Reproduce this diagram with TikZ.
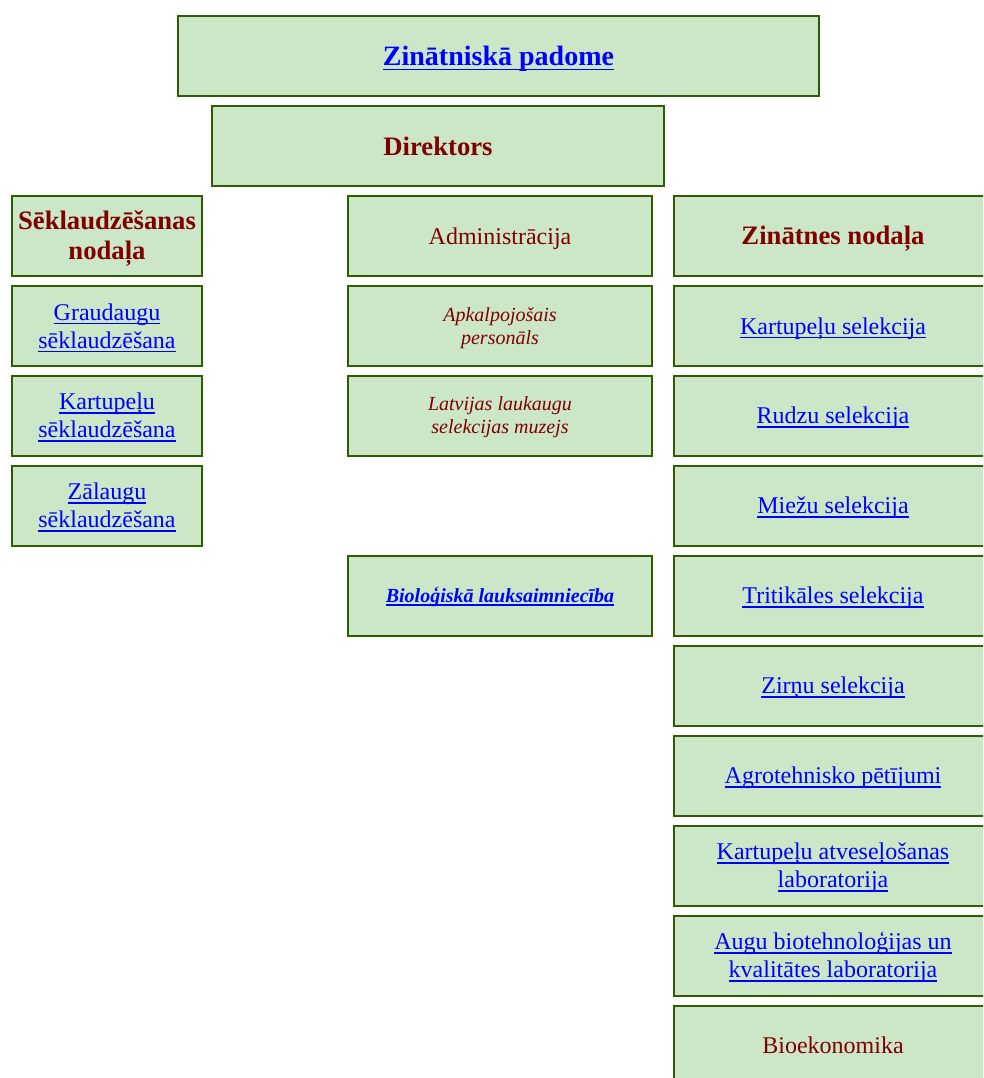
\documentclass[tikz,border=0pt]{standalone}
\usepackage{fontspec}
\setmainfont{Liberation Serif}
\usepackage{xcolor}
\definecolor{cFill}{RGB}{204,230,200}
\definecolor{cEdge}{RGB}{46,94,0}
\definecolor{cRed}{RGB}{128,0,0}
\definecolor{cLink}{RGB}{0,0,255}
\newsavebox{\lnkbox}
\newcommand{\lnk}[1]{{\color{cLink}\sbox{\lnkbox}{#1}\rlap{\usebox{\lnkbox}}\rule[-0.17em]{\wd\lnkbox}{1.1pt}}}
\newcommand{\linestrut}{\rule[-0.216em]{0pt}{1.107em}}
% two lines, each with its own strut
\newcommand{\twolines}[2]{\linestrut#1\\#2\linestrut}

\begin{document}
\begin{tikzpicture}[x=0.75pt,y=-0.75pt,
        box/.style={draw=cEdge,fill=cFill,line width=1.5pt,minimum height=60pt,align=center,inner sep=0pt,
            execute at begin node=\linestrut,execute at end node=\linestrut},
        head/.style={box,text=cRed,font=\fontsize{20}{23}\selectfont\bfseries},
        plain/.style={box,text=cRed,font=\fontsize{18}{21}\selectfont},
        link/.style={box,font=\fontsize{18}{21}\selectfont},
        small/.style={box,text=cRed,font=\fontsize{15}{17.25}\selectfont\itshape},
        leftcol/.style={minimum width=142.5pt},
        midcol/.style={minimum width=228pt},
        rightcol/.style={minimum width=238.5pt}]
        \useasboundingbox (0,0) rectangle (983,1078);
        \clip (0,0) rectangle (983,1078);

        % top
        \node[link,minimum width=480.75pt,font=\fontsize{21}{24}\selectfont\bfseries] (padome) at (498.5,56) {\lnk{Zinātniskā padome}};
        \node[head,minimum width=339pt] (direktors) at (438,146) {Direktors};

        % left column
        \node[head,leftcol] (seklnod) at (107,236) {\twolines{Sēklaudzēšanas}{nodaļa}};
        \node[link,leftcol] (graud) at (107,326) {\twolines{\lnk{Graudaugu}}{\lnk{sēklaudzēšana}}};
        \node[link,leftcol] (kartsekl) at (107,415.5) {\twolines{\lnk{Kartupeļu}}{\lnk{sēklaudzēšana}}};
        \node[link,leftcol] (zal) at (107,505.5) {\twolines{\lnk{Zālaugu}}{\lnk{sēklaudzēšana}}};

        % middle column
        \node[plain,midcol] (admin) at (500,236) {Administrācija};
        \node[small,midcol] (apkalp) at (500,326) {\twolines{Apkalpojošais}{personāls}};
        \node[small,midcol] (muzejs) at (500,415.5) {\twolines{Latvijas laukaugu}{selekcijas muzejs}};
        \node[link,midcol,font=\fontsize{15}{17.25}\selectfont\bfseries\itshape] (bio) at (500,595.5) {\lnk{Bioloģiskā lauksaimniecība}};

        % right column
        \node[head,rightcol] (zinnod) at (833,236) {Zinātnes nodaļa};
        \node[link,rightcol] (kartsel) at (833,326) {\lnk{Kartupeļu selekcija}};
        \node[link,rightcol] (rudzi) at (833,415.5) {\lnk{Rudzu selekcija}};
        \node[link,rightcol] (miezi) at (833,505.5) {\lnk{Miežu selekcija}};
        \node[link,rightcol] (tritik) at (833,595.5) {\lnk{Tritikāles selekcija}};
        \node[link,rightcol] (zirni) at (833,685.5) {\lnk{Zirņu selekcija}};
        \node[link,rightcol] (agro) at (833,775.5) {\lnk{Agrotehnisko pētījumi}};
        \node[link,rightcol] (atves) at (833,865.5) {\twolines{\lnk{Kartupeļu atveseļošanas}}{\lnk{laboratorija}}};
        \node[link,rightcol] (biotehn) at (833,955.5) {\twolines{\lnk{Augu biotehnoloģijas un}}{\lnk{kvalitātes laboratorija}}};
        \node[plain,rightcol] (bioek) at (833,1045.5) {Bioekonomika};
\end{tikzpicture}
\end{document}
